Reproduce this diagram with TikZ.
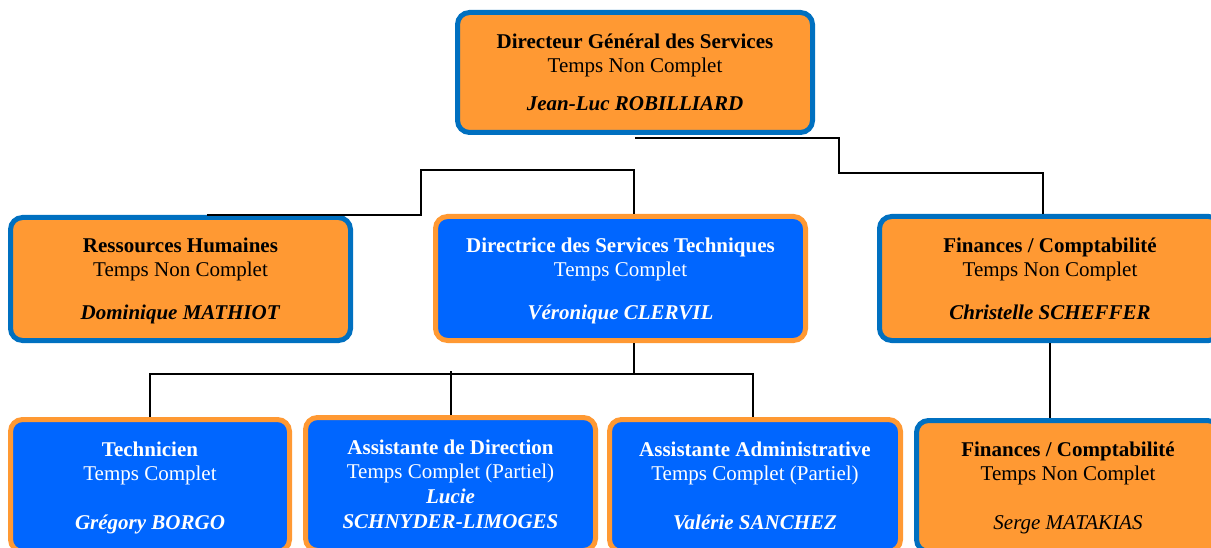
\documentclass[tikz,border=0pt]{standalone}
\usepackage{fontspec}
\setmainfont{Liberation Serif}
\definecolor{borange}{HTML}{FF9933}
\definecolor{bblue}{HTML}{0066FF}
\definecolor{bline}{HTML}{0070C0}
\tikzset{
  box/.style={rounded corners=12pt, line width=5pt, align=center, inner sep=0pt,
    font=\fontsize{21}{24}\selectfont, anchor=center, text depth=0pt},
  obox/.style={box, fill=borange, draw=bline, text=black},
  bbox/.style={box, fill=bblue, draw=borange, text=white},
  link/.style={line width=2pt, black},
}
\begin{document}
\begin{tikzpicture}[x=1pt,y=-1pt]
\useasboundingbox (0,0) rectangle (1211,548);
\clip (0,0) rectangle (1211,548);
% boxes
\node[obox, minimum width=355pt, minimum height=120pt] (dgs) at (635,72.5)
  {\textbf{Directeur Général des Services}\\Temps Non Complet\\[14pt]\textbf{\textit{Jean-Luc ROBILLIARD}}};
\node[obox, minimum width=340pt, minimum height=123pt] (rh) at (180.5,279)
  {\textbf{Ressources Humaines}\\Temps Non Complet\\[19pt]\textbf{\textit{Dominique MATHIOT}}};
\node[bbox, minimum width=370pt, minimum height=124pt] (dst) at (620.5,278.5)
  {\textbf{Directrice des Services Techniques}\\Temps Complet\\[19pt]\textbf{\textit{Véronique CLERVIL}}};
\node[obox, minimum width=341pt, minimum height=124pt] (fin) at (1050,278.5)
  {\textbf{Finances / Comptabilité}\\Temps Non Complet\\[19pt]\textbf{\textit{Christelle SCHEFFER}}};
\node[bbox, minimum width=279pt, minimum height=132pt] (tech) at (150,485.5)
  {\textbf{Technicien}\\Temps Complet\\[25pt]\textbf{\textit{Grégory BORGO}}};
\node[bbox, minimum width=290pt, minimum height=133pt] (ad) at (450.5,484)
  {\textbf{Assistante de Direction}\\Temps Complet (Partiel)\\[1pt]\textbf{\textit{Lucie}}\\[1pt]\textbf{\textit{SCHNYDER-LIMOGES}}};
\node[bbox, minimum width=291pt, minimum height=132pt] (aad) at (755,485.5)
  {\textbf{Assistante Administrative}\\Temps Complet (Partiel)\\[25pt]\textbf{\textit{Valérie SANCHEZ}}};
\node[obox, minimum width=303pt, minimum height=131pt] (fin2) at (1068,486)
  {\textbf{Finances / Comptabilité}\\Temps Non Complet\\[25pt]\textit{Serge MATAKIAS}};
% bend points
\coordinate (b1) at (839,173);
\coordinate (b2) at (421,170);
\coordinate (bar) at (753,374);
\coordinate (mid) at (634,374);
\coordinate (adtop) at (451,371);
% connectors
\draw[link] ([yshift=-3pt]dgs.south) -| (b1) -| ([xshift=-7pt]fin.north);
\draw[link] ([xshift=13.5pt]dst.north) |- (b2) |- ([xshift=26.5pt]rh.north);
\draw[link] ([xshift=13.5pt]dst.south) -- (mid);
\draw[link] (tech.north) |- (bar) -- ([xshift=-2pt]aad.north);
\draw[link] ([xshift=0.5pt]ad.north) -- (adtop);
\draw[link] (fin.south) -- (fin.south |- fin2.north);
\end{tikzpicture}
\end{document}
